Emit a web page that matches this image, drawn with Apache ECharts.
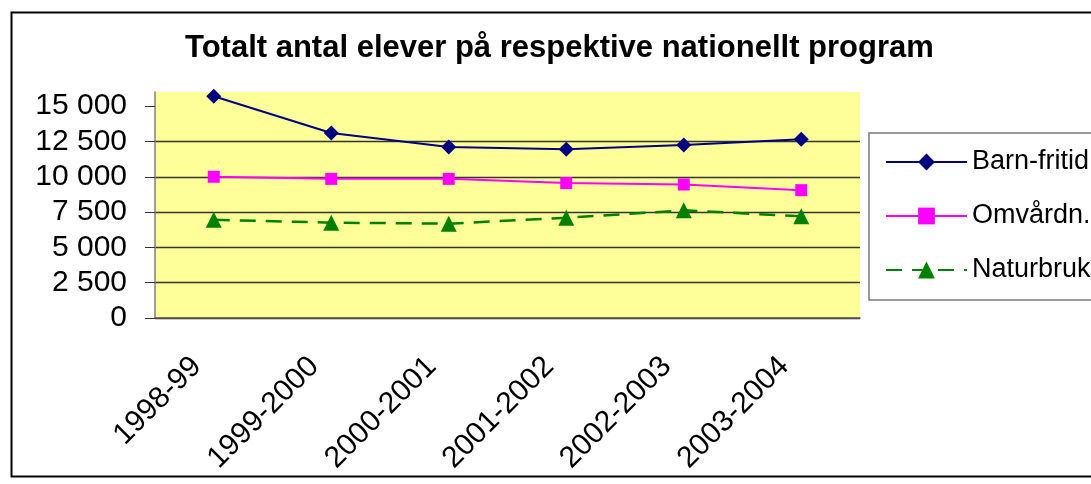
<!DOCTYPE html>
<html lang="sv">
<head>
    <meta charset="UTF-8">
    <title>Totalt antal elever</title>
    <style>
        body { margin: 0; background: #fff; overflow: hidden; }
        #main { width: 1091px; height: 484px; }
    </style>
</head>
<body>
<div id="main"></div>
<script src="https://cdn.jsdelivr.net/npm/echarts@6/dist/echarts.min.js"></script>
<script>
    var years = ['1998-99', '1999-2000', '2000-2001', '2001-2002', '2002-2003', '2003-2004'];
    var barnFritid = [15700, 13100, 12100, 11950, 12250, 12650];
    var omvardn = [10000, 9850, 9850, 9550, 9450, 9050];
    var naturbruk = [6950, 6750, 6680, 7100, 7620, 7200];
    var yTicks = [0, 2500, 5000, 7500, 10000, 12500, 15000];

    var font = 'Liberation Sans, Arial, sans-serif';

    function fmt(v) {
        return String(v).replace(/\B(?=(\d{3})+(?!\d))/g, ' ');
    }

    var myChart = echarts.init(document.getElementById('main'));

    var option = {
        animation: false,
        backgroundColor: '#fff',
        title: {
            text: 'Totalt antal elever på respektive nationellt program',
            left: 180,
            top: 28,
            textStyle: { fontFamily: font, fontSize: 31, fontWeight: 'bold', color: '#000' }
        },
        graphic: [{
            type: 'rect',
            left: 9,
            top: 10,
            shape: { width: 1200, height: 464 },
            style: { fill: 'none', stroke: '#000', lineWidth: 2 },
            silent: true
        }],
        legend: {
            orient: 'vertical',
            left: 869,
            top: 133,
            padding: [14, 60, 15, 16],
            itemGap: 24,
            itemWidth: 81,
            itemHeight: 21,
            borderColor: '#7a7a7a',
            borderWidth: 1.5,
            textStyle: { fontFamily: font, fontSize: 27, color: '#000', lineHeight: 30 },
            data: ['Barn-fritid', 'Omvårdn.', 'Naturbruk']
        },
        grid: {
            left: 155,
            right: 231,
            top: 92,
            bottom: 166,
            show: true,
            backgroundColor: '#FFFF99',
            borderWidth: 0
        },
        xAxis: {
            type: 'category',
            data: years,
            boundaryGap: true,
            axisLine: { lineStyle: { color: '#555', width: 1.5 } },
            axisTick: { length: 9, lineStyle: { color: '#333' } },
            axisLabel: {
                rotate: 45,
                margin: 27,
                padding: [0, 24, 0, 0],
                interval: 0,
                fontFamily: font,
                fontSize: 30,
                color: '#000'
            }
        },
        yAxis: {
            type: 'value',
            min: 0,
            max: 16000,
            interval: 2500,
            axisLine: { show: true, lineStyle: { color: '#808080', width: 1.5 } },
            axisTick: { show: true, length: 10, customValues: yTicks, lineStyle: { color: '#333' } },
            axisLabel: {
                margin: 28,
                customValues: yTicks,
                fontFamily: font,
                fontSize: 30,
                color: '#000',
                formatter: function (v) { return v > 15000 ? '' : fmt(v); }
            },
            splitLine: { show: true, showMaxLine: false, lineStyle: { color: '#333', width: 1.4 } }
        },
        series: [{
            name: 'Barn-fritid',
            type: 'line',
            data: barnFritid,
            symbol: 'diamond',
            symbolSize: 15,
            color: '#000080',
            lineStyle: { color: '#000080', width: 2 },
            itemStyle: { color: '#000080' }
        }, {
            name: 'Omvårdn.',
            type: 'line',
            data: omvardn,
            symbol: 'rect',
            symbolSize: 12,
            color: '#FF00FF',
            lineStyle: { color: '#FF00FF', width: 2 },
            itemStyle: { color: '#FF00FF' }
        }, {
            name: 'Naturbruk',
            type: 'line',
            data: naturbruk,
            symbol: 'triangle',
            symbolSize: 16,
            color: '#008000',
            lineStyle: { color: '#008000', width: 2.5, type: [16, 10] },
            itemStyle: { color: '#008000' }
        }]
    };

    myChart.setOption(option);
</script>
</body>
</html>
